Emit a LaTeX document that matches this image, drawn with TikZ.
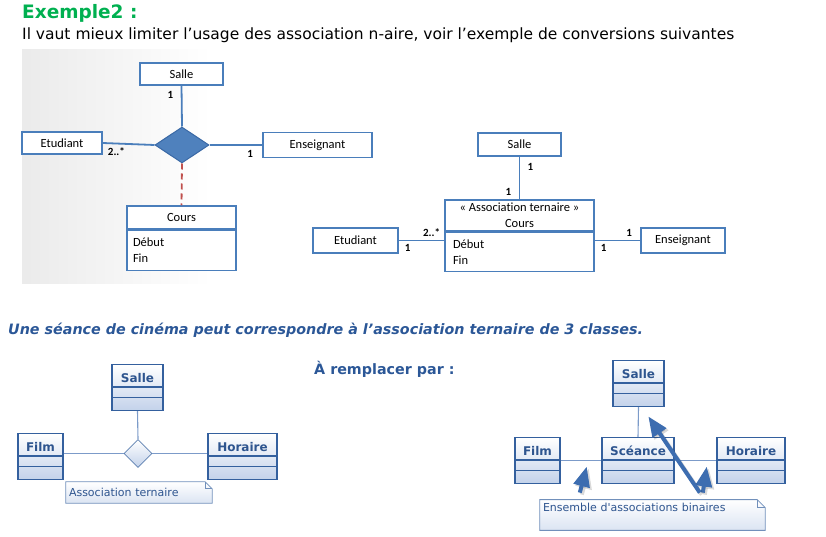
\documentclass[tikz,border=0pt]{standalone}
\usepackage{fontspec}
\setmainfont{DejaVu Sans}
\newfontfamily\calibri[Ligatures=NoCommon]{Carlito}
\usetikzlibrary{positioning,calc,arrows.meta,backgrounds,shapes.geometric,shapes.multipart}

\definecolor{vertTitre}{HTML}{00B050}
\definecolor{bleuTitre}{HTML}{2B5797}
\definecolor{bleuTrait}{HTML}{4A7EBB}
\definecolor{bleuLosange}{HTML}{4F81BD}
\definecolor{bleuLosangeBord}{HTML}{3A69A6}
\definecolor{rougeTirets}{HTML}{C0504D}
\definecolor{bleuUML}{HTML}{34609E}
\definecolor{bleuLien}{HTML}{7C9BC9}
\definecolor{bleuFond}{HTML}{C3D2EA}
\definecolor{bleuTexte}{HTML}{2E558F}
\definecolor{bleuFleche}{HTML}{3D6DB0}

\newcommand\nomclasse[1]{\rule[-1.5pt]{0pt}{16pt}#1\nodepart{two}\rule{0pt}{4pt}\nodepart{three}\rule{0pt}{7pt}}

\begin{document}
\begin{tikzpicture}[x=1pt,y=-1pt,
		texte/.style={anchor=west,inner sep=0pt},
		boite/.style={draw=bleuTrait,line width=1.5pt,fill=white,inner sep=2pt,font=\calibri\fontsize{12.5}{16}\selectfont},
		lien/.style={bleuTrait,line width=1.8pt},
		card/.style={inner sep=1pt,font=\calibri\bfseries\fontsize{11}{13}\selectfont},
		losange/.style={diamond,draw=bleuLosangeBord,fill=bleuLosange,line width=1pt,minimum width=54,minimum height=36,inner sep=0pt},
		classe/.style={rectangle split,rectangle split parts=3,anchor=north,draw=bleuUML,line width=1.3pt,
			top color=white,bottom color=bleuFond,inner xsep=3pt,inner ysep=2.5pt,
			text=bleuTexte,font=\bfseries\fontsize{12}{14}\selectfont},
		losangeUML/.style={diamond,draw=bleuUML!80,line width=0.8pt,top color=white,bottom color=bleuFond,minimum size=28,inner sep=0pt},
		lienUML/.style={bleuLien,line width=1.1pt},
		note/.style={inner xsep=3pt,inner ysep=3pt,align=left,text=bleuTexte,font=\fontsize{11}{13}\selectfont},
		plinote/.style={draw=bleuUML!70,line width=0.8pt},
		fleche/.style={bleuFleche,line width=4pt,-{Triangle[length=20pt,width=16pt]}},
		ombre/.style={draw=black,opacity=0.15,transform canvas={shift={(2pt,-2pt)}}}]
	\useasboundingbox (0,0) rectangle (826,537);
	\fill[left color=black!8,right color=white,middle color=white] (22,50) rectangle (400,283);

	% titres
	\node[texte,text=vertTitre,font=\bfseries\fontsize{18.5}{22}\selectfont] (titre) at (22,13) {Exemple2 :};
	\node[texte,font=\fontsize{15.5}{18}\selectfont] (intro) at (22,35) {Il vaut mieux limiter l’usage des association n-aire, voir l’exemple de conversions suivantes};
	\node[texte,text=bleuTitre,font=\bfseries\itshape\fontsize{14.3}{17}\selectfont] (seance) at (8,330) {Une séance de cinéma peut correspondre à l’association ternaire de 3 classes.};
	\node[texte,text=bleuTitre,font=\bfseries\fontsize{14.3}{17}\selectfont] (remplacer) at (314,369) {À remplacer par :};

	% association n-aire
	\node[boite,minimum width=83,minimum height=22] (salleA) at (181.5,74) {Salle};
	\node[boite,minimum width=80,minimum height=22] (etudA) at (62,143) {Etudiant};
	\node[losange] (assocA) at (182,145) {};
	\node[boite,minimum width=109,minimum height=25] (ensA) at (317.5,145) {Enseignant};
	\node[boite,minimum width=109,minimum height=23] (coursA) at (181.5,217.5) {Cours};
	\node[boite,anchor=north,minimum width=109,minimum height=40,text width=97,align=left] (coursAttrA) at (coursA.south) {Début\\Fin};
	\draw[lien] (salleA.south) -- (assocA.north);
	\draw[lien] (etudA.east) -- (assocA.west);
	\draw[lien] (assocA.east) -- (ensA.west);
	\draw[rougeTirets,line width=1.8pt,dash pattern=on 6pt off 4pt] (assocA.south) -- (coursA.north);
	\node[card,below left=4pt and 7pt of salleA.south] (cSalleA) {1};
	\node[card,below right=3pt and 4pt of etudA.east] (cEtudA) {2..*};
	\node[card,below left=4pt and 8pt of ensA.west] (cEnsA) {1};

	% classe d'association
	\node[boite,minimum width=83,minimum height=23] (salleB) at (519.5,144.5) {Salle};
	\node[boite,minimum width=149,minimum height=31,align=center] (assocB) at (519.5,215.5) {« Association ternaire »\\Cours};
	\node[boite,anchor=north,minimum width=149,minimum height=39,text width=133,align=left] (assocAttrB) at (assocB.south) {Début\\Fin};
	\node[boite,minimum width=85,minimum height=25] (etudB) at (355.5,240.5) {Etudiant};
	\node[boite,minimum width=84,minimum height=25] (ensB) at (683,240.5) {Enseignant};
	\draw[lien] (salleB.south) -- (assocB.north);
	\draw[lien] (etudB.east) -- (etudB.east -| assocAttrB.west);
	\draw[lien] (ensB.west -| assocAttrB.east) -- (ensB.west);
	\node[card,below right=5pt and 7pt of salleB.south] (cSalleB) {1};
	\node[card,above left=3pt and 7pt of assocB.north] (cAssocB1) {1};
	\node[card,above left=3pt and 3pt of etudB.east -| assocAttrB.west] (cAssocB2) {2..*};
	\node[card,below right=3pt and 5pt of etudB.east] (cEtudB) {1};
	\node[card,above left=3pt and 7pt of ensB.west] (cEnsB) {1};
	\node[card,below right=3pt and 5pt of ensB.west -| assocAttrB.east] (cAssocB3) {1};

	% seance : association ternaire
	\node[classe,minimum width=51] (salleC) at (137.5,364) {\nomclasse{Salle}};
	\node[classe,minimum width=45] (filmC) at (40.5,433) {\nomclasse{Film}};
	\node[classe,minimum width=69] (horC) at (242.5,433) {\nomclasse{Horaire}};
	\node[losangeUML] (losC) at (138,453.5) {};
	\draw[lienUML] (salleC.south) -- (losC.north);
	\draw[lienUML] (losC.west -| filmC.east) -- (losC.west);
	\draw[lienUML] (losC.east) -- (losC.east -| horC.west);
	\node[note,text width=140,minimum height=21] (noteC) at (139,492.5) {Association ternaire};

	% seance : associations binaires
	\node[classe,minimum width=51] (salleD) at (638.5,360) {\nomclasse{Salle}};
	\node[classe,minimum width=45] (filmD) at (537.5,437) {\nomclasse{Film}};
	\node[classe,minimum width=72] (seanceD) at (638,437) {\nomclasse{Scéance}};
	\node[classe,minimum width=68] (horD) at (751,437) {\nomclasse{Horaire}};
	\draw[lienUML] (salleD.south) -- (seanceD.north);
	\draw[lienUML] (filmD.east) -- (seanceD.west);
	\draw[lienUML] (seanceD.east) -- (horD.west);
	\node[note,text width=219,text depth=16pt] (noteD) at (652.5,515) {Ensemble d\textquotesingle associations binaires};

	\begin{scope}[on background layer]
		\foreach \n/\pli in {noteC/7,noteD/8}{
			\draw[plinote,top color=white,bottom color=bleuFond!60] (\n.north west) -- ([xshift=-\pli pt]\n.north east) -- ([yshift=-\pli pt]\n.north east) -- (\n.south east) -- (\n.south west) -- cycle;
			\draw[plinote] ([xshift=-\pli pt]\n.north east) |- ([yshift=-\pli pt]\n.north east);
		}
	\end{scope}

	\coordinate (cibleFS) at ($(filmD.east)!0.64!(seanceD.west)+(0,6)$);
	\coordinate (cibleSH) at ($(seanceD.east)!0.77!(horD.west)+(0,6)$);
	\coordinate (cibleSS) at ($(salleD.south)!0.31!(seanceD.north)+(10,0)$);
	\coordinate (departFS) at ($(noteD.north west)+(40,-7)$);
	\coordinate (departSH) at ($(noteD.north west)+(163,-7)$);
	\coordinate (departSS) at ($(noteD.north west)+(160,-7)$);
	\foreach \a/\b in {departFS/cibleFS,departSH/cibleSH,departSS/cibleSS}{
		\draw[fleche,ombre] (\a) -- (\b);
		\draw[fleche] (\a) -- (\b);
	}
\end{tikzpicture}
\end{document}
